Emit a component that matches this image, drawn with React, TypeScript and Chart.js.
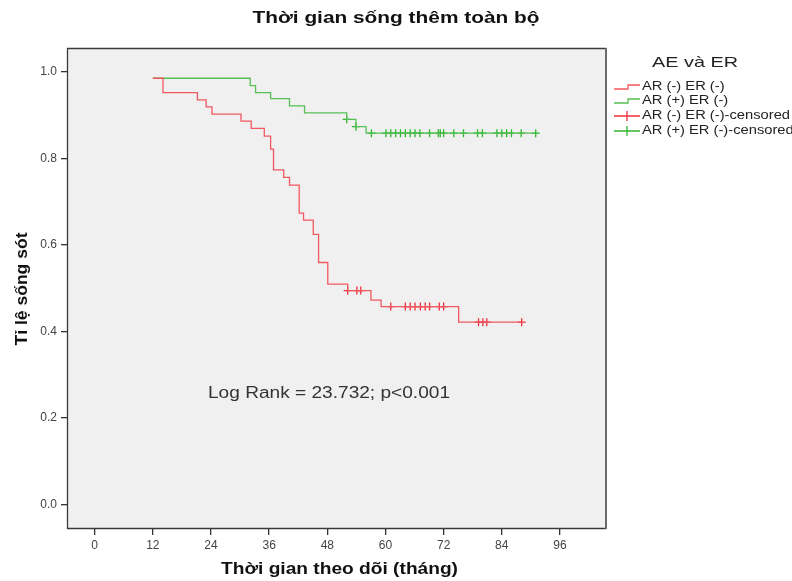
import { useEffect, useRef } from 'react';
import { Chart, registerables } from 'chart.js';

Chart.register(...registerables);

// ---- data ----
const xTicks = [0, 12, 24, 36, 48, 60, 72, 84, 96];
const yTicks = [0, 0.2, 0.4, 0.6, 0.8, 1.0];

const redTimes = [12, 14.1, 21.2, 23.0, 24.2, 30.2, 32.3, 35.0, 36.3, 36.9, 39.0, 40.2, 42.2, 43.1, 45.1, 46.2, 48.1, 52.2, 57.0, 59.1, 75.1, 88.1];
const redSurv = [0.985, 0.952, 0.935, 0.919, 0.902, 0.886, 0.869, 0.851, 0.821, 0.773, 0.756, 0.738, 0.673, 0.657, 0.624, 0.559, 0.509, 0.494, 0.472, 0.457, 0.421, 0.421];

const greenTimes = [12, 32.1, 33.2, 36.3, 40.2, 43.3, 52.0, 53.9, 56.0, 91.0];
const greenSurv = [0.985, 0.968, 0.952, 0.938, 0.921, 0.905, 0.890, 0.873, 0.858, 0.858];

const redCensorTimes = [52.2, 54.1, 54.9, 61.1, 64.1, 65.1, 66.1, 67.2, 68.2, 69.1, 71.1, 72.0, 79.2, 80.1, 80.9, 88.1];
const redCensorSurv = [0.494, 0.494, 0.494, 0.457, 0.457, 0.457, 0.457, 0.457, 0.457, 0.457, 0.457, 0.457, 0.421, 0.421, 0.421, 0.421];

const greenCensorTimes = [52.0, 53.9, 57.1, 60.1, 61.1, 62.1, 63.1, 64.1, 65.1, 66.1, 67.1, 69.1, 70.9, 71.3, 72.0, 74.1, 76.1, 79.0, 80.0, 83.0, 84.0, 85.0, 86.0, 88.0, 91.0];
const greenCensorSurv = [0.890, 0.873, 0.858, 0.858, 0.858, 0.858, 0.858, 0.858, 0.858, 0.858, 0.858, 0.858, 0.858, 0.858, 0.858, 0.858, 0.858, 0.858, 0.858, 0.858, 0.858, 0.858, 0.858, 0.858, 0.858];

const seriesLabels = ['AR (-) ER (-)', 'AR (+) ER (-)', 'AR (-) ER (-)-censored', 'AR (+) ER (-)-censored'];
const legendTitle = 'AE và ER';
const chartTitle = 'Thời gian sống thêm toàn bộ';
const xTitle = 'Thời gian theo dõi (tháng)';
const yTitle = 'Tỉ lệ sống sót';
const annotation = 'Log Rank = 23.732; p<0.001';

const RED = '#f25860';
const GREEN = '#55c055';
const RED_C = '#f0303c';
const GREEN_C = '#2fb52f';
const FONT = 'Arial, "Liberation Sans", sans-serif';

const toPts = (xs: number[], ys: number[]) => xs.map((x, i) => ({ x, y: ys[i] }));

// draw text horizontally stretched so its width matches the reference
function drawText(ctx: any, text: string, x: number, y: number, width: number, align: 'left' | 'center') {
  const w = ctx.measureText(text).width;
  const sx = width / w;
  ctx.save();
  ctx.textAlign = 'left';
  ctx.textBaseline = 'middle';
  const left = align === 'center' ? x - width / 2 : x;
  ctx.translate(left, y);
  ctx.scale(sx, 1);
  ctx.fillText(text, 0, 0);
  ctx.restore();
}

const decor = {
  id: 'decor',
  beforeDraw(chart: any) {
    const { ctx, chartArea: a, width, height } = chart;
    ctx.save();
    ctx.fillStyle = '#ffffff';
    ctx.fillRect(0, 0, width, height);
    ctx.fillStyle = '#f0f0f0';
    ctx.fillRect(a.left, a.top, a.right - a.left, a.bottom - a.top);
    ctx.restore();
  },
  afterDraw(chart: any) {
    const { ctx, chartArea: a } = chart;
    ctx.save();
    // frame
    ctx.strokeStyle = '#3a3a3a';
    ctx.lineWidth = 1.3;
    ctx.beginPath();
    ctx.moveTo(a.right, a.top + 0.5);
    ctx.lineTo(a.left - 0.5, a.top + 0.5);
    ctx.lineTo(a.left - 0.5, a.bottom + 0.5);
    ctx.lineTo(a.right, a.bottom + 0.5);
    ctx.stroke();
    ctx.strokeStyle = '#6a6a6a';
    ctx.lineWidth = 2;
    ctx.beginPath();
    ctx.moveTo(a.right, a.top);
    ctx.lineTo(a.right, a.bottom + 1);
    ctx.stroke();

    // titles
    ctx.fillStyle = '#111';
    ctx.font = `bold 17px ${FONT}`;
    drawText(ctx, chartTitle, 396, 18, 287, 'center');
    ctx.font = `bold 17px ${FONT}`;
    drawText(ctx, xTitle, 339.5, 569, 237, 'center');
    ctx.save();
    ctx.translate(23, 289);
    ctx.rotate(-Math.PI / 2);
    ctx.font = `bold 16px ${FONT}`;
    drawText(ctx, yTitle, 0, 0, 113, 'center');
    ctx.restore();

    // annotation
    ctx.fillStyle = '#333';
    ctx.font = `16px ${FONT}`;
    drawText(ctx, annotation, 208, 394, 242, 'left');

    // legend
    ctx.fillStyle = '#222';
    ctx.font = `15px ${FONT}`;
    drawText(ctx, legendTitle, 695, 63, 86, 'center');
    const rows = [87, 101, 116, 131];
    const colors = [RED, GREEN, RED_C, GREEN_C];
    ctx.font = `12.5px ${FONT}`;
    const longest = ctx.measureText(seriesLabels[2]).width;
    const sx = 148 / longest;
    rows.forEach((y, i) => {
      ctx.strokeStyle = colors[i];
      ctx.lineWidth = 1.3;
      ctx.beginPath();
      if (i < 2) {
        ctx.moveTo(614, y + 2);
        ctx.lineTo(628, y + 2);
        ctx.lineTo(628, y - 2);
        ctx.lineTo(640, y - 2);
      } else {
        ctx.moveTo(614, y);
        ctx.lineTo(640, y);
        ctx.moveTo(627, y - 5);
        ctx.lineTo(627, y + 5);
      }
      ctx.stroke();
      ctx.fillStyle = '#222';
      const w = ctx.measureText(seriesLabels[i]).width * sx;
      drawText(ctx, seriesLabels[i], 642, y, w, 'left');
    });
    ctx.restore();
  },
};

export default function App() {
  const ref = useRef<HTMLCanvasElement>(null);
  useEffect(() => {
    const tickFont = { family: FONT, size: 12 };
    const chart = new Chart(ref.current as HTMLCanvasElement, {
      type: 'scatter',
      data: {
        datasets: [
          {
            label: seriesLabels[0],
            data: toPts(redTimes, redSurv),
            showLine: true,
            stepped: 'before',
            borderColor: RED,
            borderWidth: 1.3,
            pointRadius: 0,
            fill: false,
          },
          {
            label: seriesLabels[1],
            data: toPts(greenTimes, greenSurv),
            showLine: true,
            stepped: 'before',
            borderColor: GREEN,
            borderWidth: 1.3,
            pointRadius: 0,
            fill: false,
          },
          {
            label: seriesLabels[2],
            data: toPts(redCensorTimes, redCensorSurv),
            showLine: false,
            pointStyle: 'cross',
            pointRadius: 4,
            borderColor: RED_C,
            borderWidth: 1.3,
          },
          {
            label: seriesLabels[3],
            data: toPts(greenCensorTimes, greenCensorSurv),
            showLine: false,
            pointStyle: 'cross',
            pointRadius: 4,
            borderColor: GREEN_C,
            borderWidth: 1.3,
          },
        ] as any,
      },
      options: {
        animation: false,
        responsive: false,
        devicePixelRatio: 1,
        layout: { padding: { top: 48, right: 186, left: 0, bottom: 0 } },
        plugins: {
          legend: { display: false },
          tooltip: { enabled: false },
          title: { display: false },
        },
        scales: {
          x: {
            type: 'linear',
            min: -5.5,
            max: 105.5,
            afterBuildTicks: (s: any) => {
              s.ticks = xTicks.map((v) => ({ value: v }));
            },
            afterFit: (s: any) => {
              s.height = 53;
            },
            grid: { drawOnChartArea: false, drawTicks: true, tickLength: 7, color: '#333', lineWidth: 1.3 },
            border: { display: false },
            ticks: {
              font: tickFont,
              color: '#444',
              padding: 3,
              maxRotation: 0,
              autoSkip: false,
              callback: (v: any) => String(v),
            },
          },
          y: {
            type: 'linear',
            min: -0.055,
            max: 1.055,
            afterBuildTicks: (s: any) => {
              s.ticks = yTicks.map((v) => ({ value: v }));
            },
            afterFit: (s: any) => {
              s.width = 68;
            },
            grid: { drawOnChartArea: false, drawTicks: true, tickLength: 7, color: '#333', lineWidth: 1.3 },
            border: { display: false },
            ticks: {
              font: tickFont,
              color: '#444',
              padding: 4,
              autoSkip: false,
              callback: (v: any) => Number(v).toFixed(1),
            },
          },
        },
      } as any,
      plugins: [decor],
    });
    return () => chart.destroy();
  }, []);
  return (
    <div style={{ position: 'fixed', left: 0, top: 0, width: 792, height: 581, background: '#fff' }}>
      <canvas ref={ref} width={792} height={581} style={{ display: 'block' }} />
    </div>
  );
}
